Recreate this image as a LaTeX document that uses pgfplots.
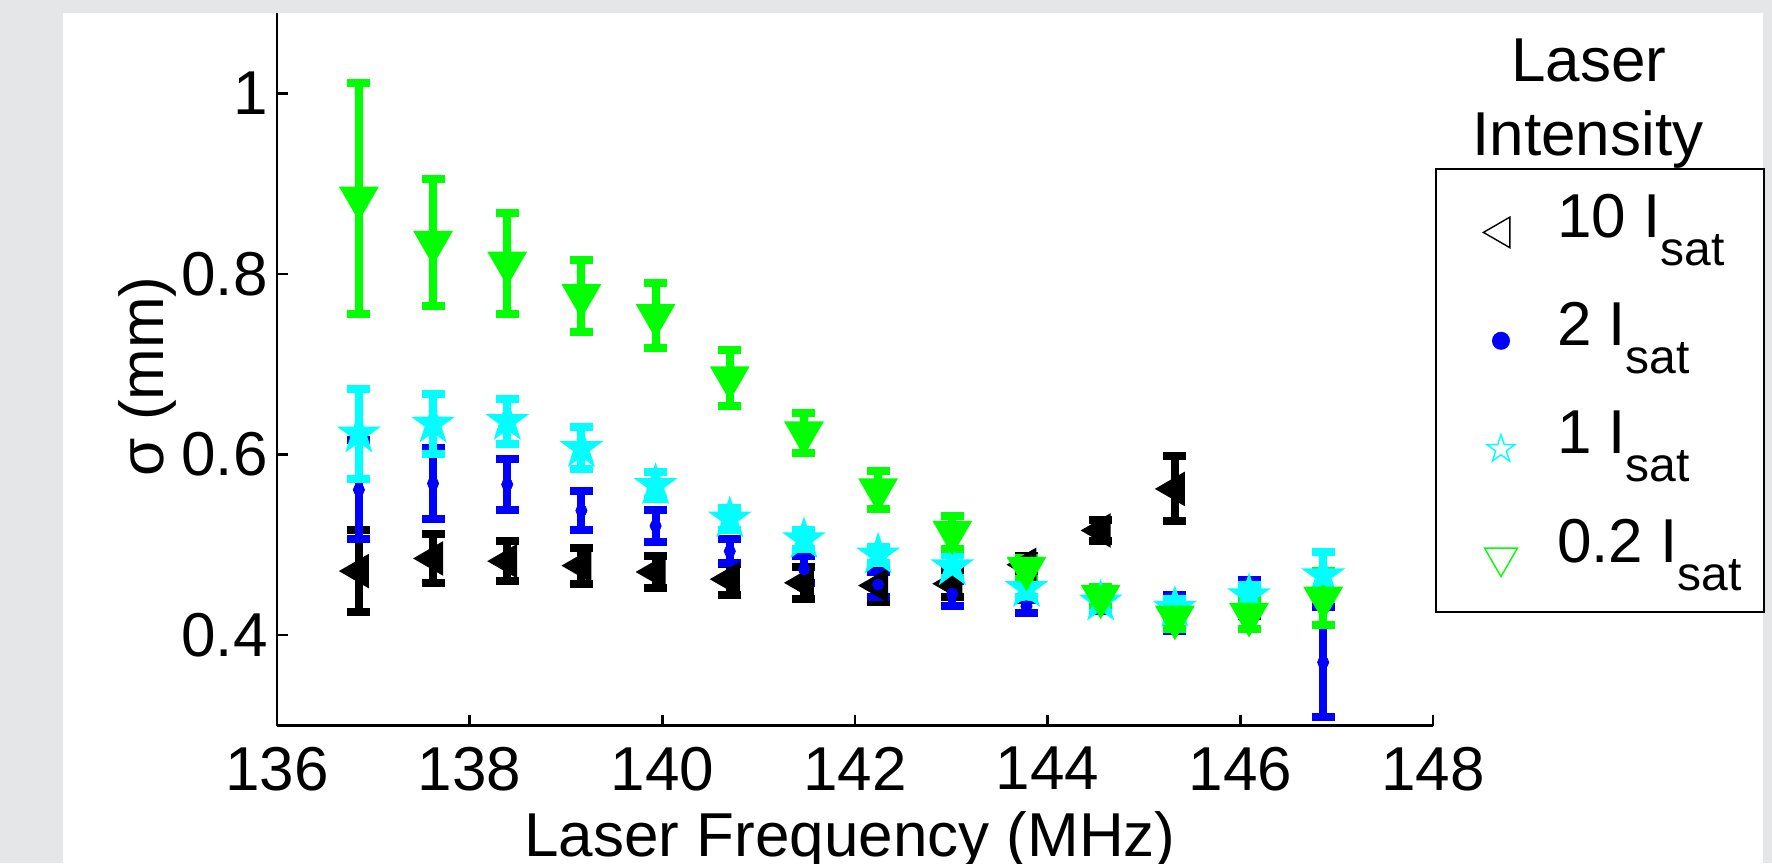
\documentclass[border=0pt]{standalone}
\usepackage{fontspec}
\setmainfont{Liberation Sans}
\usepackage{pgfplots}
\usepackage{pgfplotstable}
\pgfplotsset{compat=1.18}
\usetikzlibrary{plotmarks}

\definecolor{bggray}{RGB}{229,230,232}
\definecolor{mgreen}{RGB}{0,255,0}
\definecolor{mcyan}{RGB}{0,255,255}
\definecolor{mblue}{RGB}{0,0,255}

% matlab style 5-point star
\pgfdeclareplotmark{pentagram}{%
  \pgfpathmoveto{\pgfpointpolar{90}{\pgfplotmarksize}}%
  \pgfpathlineto{\pgfpointpolar{126}{0.382\pgfplotmarksize}}%
  \pgfpathlineto{\pgfpointpolar{162}{\pgfplotmarksize}}%
  \pgfpathlineto{\pgfpointpolar{198}{0.382\pgfplotmarksize}}%
  \pgfpathlineto{\pgfpointpolar{234}{\pgfplotmarksize}}%
  \pgfpathlineto{\pgfpointpolar{270}{0.382\pgfplotmarksize}}%
  \pgfpathlineto{\pgfpointpolar{306}{\pgfplotmarksize}}%
  \pgfpathlineto{\pgfpointpolar{342}{0.382\pgfplotmarksize}}%
  \pgfpathlineto{\pgfpointpolar{18}{\pgfplotmarksize}}%
  \pgfpathlineto{\pgfpointpolar{54}{0.382\pgfplotmarksize}}%
  \pgfpathclose
  \pgfusepathqfillstroke}

\newcommand{\bigf}{\fontsize{31}{37}\selectfont}
\newcommand{\isat}[1]{\makebox[99.5pt][l]{#1 I\raisebox{-14pt}{\fontsize{24}{24}\selectfont sat}}}

% 10 I_sat
\pgfplotstableread{
x y e
136.85 0.471 0.045
137.62 0.485 0.027
138.39 0.482 0.022
139.16 0.477 0.020
139.93 0.470 0.018
140.70 0.462 0.017
141.47 0.458 0.018
142.24 0.455 0.018
143.01 0.457 0.015
143.78 0.478 0.010
144.55 0.516 0.012
145.32 0.562 0.036
}\tblack
% 2 I_sat
\pgfplotstableread{
x y e
136.85 0.561 0.055
137.62 0.568 0.039
138.39 0.567 0.028
139.16 0.538 0.022
139.93 0.521 0.018
140.70 0.493 0.013
141.47 0.473 0.015
142.24 0.456 0.014
143.01 0.446 0.014
143.78 0.432 0.007
144.55 0.433 0.006
145.32 0.425 0.020
146.09 0.441 0.020
146.86 0.370 0.061
}\tblue
% 1 I_sat
\pgfplotstableread{
x y e
136.85 0.623 0.050
137.62 0.634 0.033
138.39 0.637 0.025
139.16 0.607 0.023
139.93 0.566 0.015
140.70 0.529 0.012
141.47 0.506 0.010
142.24 0.489 0.009
143.01 0.476 0.013
143.78 0.452 0.010
144.55 0.437 0.008
145.32 0.430 0.010
146.09 0.444 0.012
146.86 0.466 0.026
}\tcyan
% 0.2 I_sat
\pgfplotstableread{
x y e
136.85 0.884 0.128
137.62 0.835 0.070
138.39 0.812 0.056
139.16 0.776 0.040
139.93 0.754 0.036
140.70 0.685 0.031
141.47 0.624 0.022
142.24 0.561 0.021
143.01 0.514 0.018
143.78 0.474 0.012
144.55 0.443 0.010
145.32 0.420 0.013
146.09 0.423 0.016
146.86 0.441 0.030
}\tgreen

\pgfplotsset{
  mylegimg/.style={legend image code/.code={%
    \path[draw=none] (0pt,0pt) (40pt,0pt);
    \draw[##1, only marks] plot coordinates {(28.5pt,-2.2pt)};}},
  ebar/.style={error bars/.cd, y dir=both, y explicit,
    error mark=-,
    error bar style={line width=4pt, #1},
    error mark options={rotate=90, line width=4pt, mark size=5.75pt, #1}},
}

\begin{document}
\begin{tikzpicture}
\fill[bggray] (-138.5pt,-68.75pt) rectangle (747.5pt,362.75pt);
\fill[white] (-107pt,-68.75pt) rectangle (743pt,356.25pt);
\begin{axis}[
  scale only axis, width=578pt, height=356.25pt,
  xmin=136, xmax=148, ymin=0.3, ymax=1.089,
  xtick={136,138,...,148}, ytick={0.4,0.6,0.8,1},
  axis x line*=bottom, axis y line*=left,
  axis line style={line width=1.2pt, black},
  tick align=inside, major tick length=5.5pt,
  major tick style={line width=1.2pt, black},
  /pgf/number format/assume math mode=true,
  tick label style={font=\bigf},
  xticklabel style={anchor=north, inner sep=0pt, yshift=-10.5pt},
  yticklabel style={anchor=east, inner sep=0pt, xshift=-4.5pt},
  xlabel={Laser Frequency (MHz)},
  xlabel style={font=\bigf, at={(axis description cs:0.4957,-0.1832)}, anchor=base},
  ylabel={σ (mm)},
  ylabel style={font=\bigf, at={(axis description cs:-0.0986,0.49)}, anchor=base},
  clip=false,
  legend cell align=left,
  legend style={at={(axis description cs:1.00173,0.78246)}, anchor=north west,
    draw=black, line width=1pt, inner xsep=4pt, inner ysep=4pt,
    column sep=16.5pt, row sep=3.2pt,
    nodes={inner sep=0pt, text height=30pt, text depth=21pt, font=\bigf}},
]
\addplot[forget plot, only marks, black, mark=triangle*, mark size=7.5pt,
  mark options={rotate=90, draw=black, fill=black, line width=2.5pt}, ebar=black]
  table[x=x, y=y, y error=e] {\tblack};
\addplot[forget plot, only marks, mblue, mark=*, mark size=2.8pt,
  mark options={draw=mblue, fill=mblue}, ebar=mblue]
  table[x=x, y=y, y error=e] {\tblue};
\addplot[forget plot, only marks, mcyan, mark=pentagram, mark size=7.5pt,
  mark options={draw=mcyan, fill=mcyan, line width=2.5pt}, ebar=mcyan]
  table[x=x, y=y, y error=e] {\tcyan};
\addplot[forget plot, only marks, mgreen, mark=triangle*, mark size=9pt,
  mark options={rotate=180, draw=mgreen, fill=mgreen, line width=2.5pt}, ebar=mgreen]
  table[x=x, y=y, y error=e] {\tgreen};

\addlegendimage{mark=triangle, mark size=8.8pt, mark options={rotate=90, draw=black, fill=white, line width=0.7pt}, mylegimg}
\addlegendentry{\isat{10}}
\addlegendimage{mark=*, mark size=4pt, mark options={draw=mblue, fill=mblue}, mylegimg}
\addlegendentry{\isat{2}}
\addlegendimage{mark=pentagram, mark size=7.3pt, mark options={draw=mcyan, fill=white, line width=0.7pt}, mylegimg}
\addlegendentry{\isat{1}}
\addlegendimage{mark=triangle, mark size=9.5pt, mark options={rotate=180, draw=mgreen, fill=white, line width=0.7pt}, mylegimg}
\addlegendentry{\isat{0.2}}

\node[font=\bigf, anchor=base] at (axis description cs:1.1349,0.9036) {Laser};
\node[font=\bigf, anchor=base] at (axis description cs:1.1341,0.7993) {Intensity};
\end{axis}
\pgfresetboundingbox
\useasboundingbox (-138.5pt,-68.75pt) rectangle (747.5pt,362.75pt);
\end{tikzpicture}
\end{document}
